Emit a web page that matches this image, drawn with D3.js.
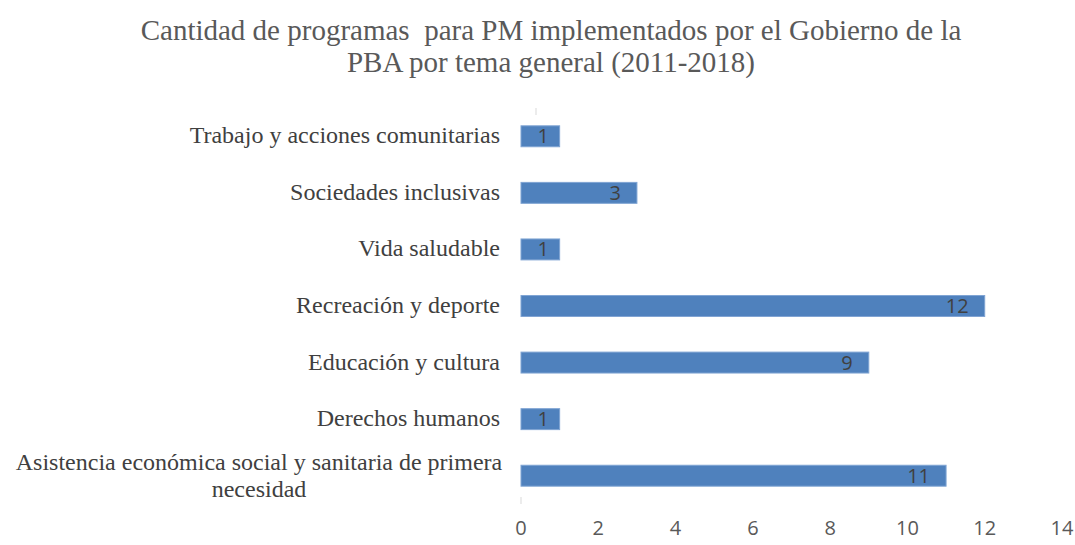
<!DOCTYPE html>
<html><head><meta charset="utf-8">
<script src="https://cdn.jsdelivr.net/npm/d3@7"></script>
<style>body{margin:0;background:#fff}</style>
</head><body>
<svg id="c" width="1075" height="545"></svg>
<script>
const categories = ["Trabajo y acciones comunitarias","Sociedades inclusivas","Vida saludable","Recreación y deporte","Educación y cultura","Derechos humanos","Asistencia económica social y sanitaria de primera necesidad"];
const labelLines = [["Trabajo y acciones comunitarias"],["Sociedades inclusivas"],["Vida saludable"],["Recreación y deporte"],["Educación y cultura"],["Derechos humanos"],["Asistencia económica social y sanitaria de primera","necesidad"]];
const values = [1,3,1,12,9,1,11];
const tickValues = [0,2,4,6,8,10,12,14];
const titleLines = ["Cantidad de programas  para PM implementados por el Gobierno de la","PBA por tema general (2011-2018)"];

const svg = d3.select("#c");
const x = d3.scaleLinear().domain([0,14]).range([521,1062]);
const y = d3.scaleBand().domain(categories).range([108,504]).paddingInner(0.63).paddingOuter(0.315);

// title
svg.append("g").selectAll("text").data(titleLines).join("text")
  .attr("x",551).attr("y",(d,i)=>40+i*32)
  .attr("text-anchor","middle")
  .style("font-family","'Liberation Serif', serif").style("font-size","29px").style("fill","#595959")
  .style("white-space","pre")
  .text(d=>d);

// axis bits
svg.append("line").attr("x1",x(0)+15).attr("x2",x(0)+15).attr("y1",108).attr("y2",115).attr("stroke","#d9d9d9");
svg.append("line").attr("x1",x(0)).attr("x2",x(0)).attr("y1",497).attr("y2",504).attr("stroke","#d9d9d9");

// bars
svg.append("g").selectAll("rect").data(values).join("rect")
  .attr("x",x(0)).attr("y",(d,i)=>y(categories[i]))
  .attr("width",d=>x(d)-x(0)).attr("height",y.bandwidth())
  .attr("fill","#4F81BD").attr("stroke","#7fa4d3").attr("stroke-width",1);

// value labels
svg.append("g").selectAll("text").data(values).join("text")
  .attr("x",d=>Math.max(x(d)-16, x(0)+28)).attr("y",(d,i)=>y(categories[i])+y.bandwidth()/2+7)
  .attr("text-anchor","end")
  .style("font-family","'Open Sans', 'Liberation Sans', sans-serif").style("font-size","20px").style("fill","#404040")
  .text(d=>d);

// category labels
const cg = svg.append("g");
labelLines.forEach((lines,i)=>{
  const cy = y(categories[i])+y.bandwidth()/2;
  if(lines.length===1){
    cg.append("text").attr("x",500).attr("y",cy+7).attr("text-anchor","end")
      .style("font-family","'Liberation Serif', serif").style("font-size","24px").style("fill","#404040")
      .text(lines[0]);
  } else {
    const t = cg.append("text").attr("text-anchor","middle")
      .style("font-family","'Liberation Serif', serif").style("font-size","24px").style("fill","#404040");
    lines.forEach((l,j)=>{
      t.append("tspan").attr("x",259).attr("y",cy-6+j*27).text(l);
    });
  }
});

// x tick labels
svg.append("g").selectAll("text").data(tickValues).join("text")
  .attr("x",d=>x(d)).attr("y",535).attr("text-anchor","middle")
  .style("font-family","'Open Sans', 'Liberation Sans', sans-serif").style("font-size","20px").style("fill","#595959")
  .text(d=>d);
</script>
</body></html>
